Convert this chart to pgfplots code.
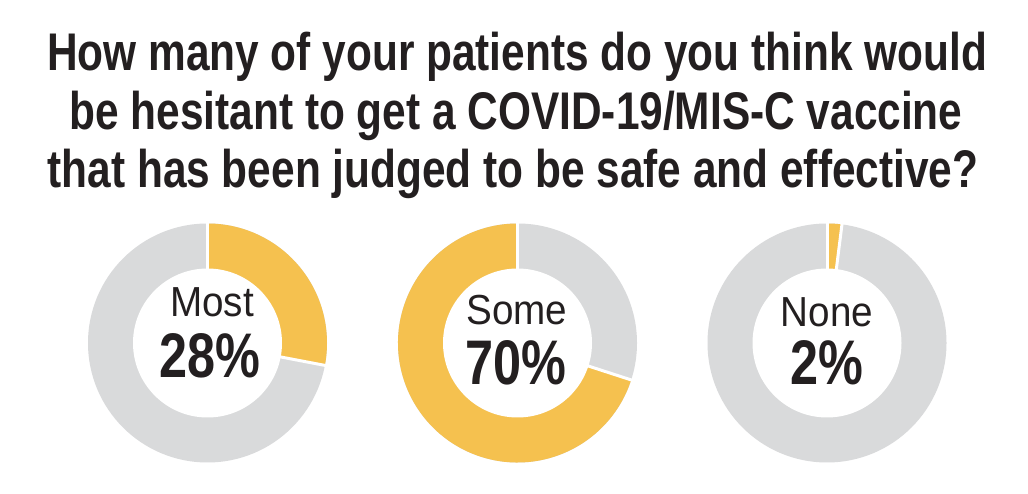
\documentclass[border=0pt]{standalone}
\usepackage{fontspec}
\setmainfont{Liberation Sans}
\newfontfamily\titlefont[FakeStretch=0.80]{Liberation Sans}
\newfontfamily\labfont[FakeStretch=0.92]{Liberation Sans}
\usepackage{pgfplots}
\pgfplotsset{compat=1.18}
\definecolor{yel}{HTML}{F5C14F}
\definecolor{gry}{HTML}{D9DADB}
\definecolor{ink}{HTML}{231F20}
% \donut{cx}{cy}{start angle}{percent of yellow, clockwise}
\newcommand{\donut}[4]{%
  \fill[gry] (axis cs:#1,#2) circle[radius=119.5pt];
  \fill[yel] (axis cs:#1,#2) -- ++(#3:119.5pt) arc[start angle=#3, end angle={#3-3.6*#4}, radius=119.5pt] -- cycle;
  \draw[white, line width=3pt] (axis cs:#1,#2) -- ++(#3:122pt);
  \draw[white, line width=3pt] (axis cs:#1,#2) -- ++({#3-3.6*#4}:122pt);
  \fill[white] (axis cs:#1,#2) circle[radius=74.5pt];
}
\begin{document}
\begin{tikzpicture}
\begin{axis}[x=1pt, y=1pt, xmin=0, xmax=1028, ymin=0, ymax=494,
  hide axis, clip=false]
\fill[white] (axis cs:0,0) rectangle (axis cs:1028,494);
% Most 28%  (yellow from 12 o'clock clockwise)
\donut{207.5}{151}{90}{28}
% Some 70%  (gray 30% from 12 o'clock clockwise, then yellow)
\donut{517.5}{151}{-18}{70}
% None 2%
\donut{827}{151}{90}{2}
\node[anchor=base, text=ink, inner sep=0pt, font=\titlefont\bfseries\fontsize{53}{56}\selectfont] at (axis cs:517,423) {How many of your patients do you think would};
\node[anchor=base, text=ink, inner sep=0pt, font=\titlefont\bfseries\fontsize{53}{56}\selectfont] at (axis cs:516,364) {be hesitant to get a COVID-19/MIS-C vaccine};
\node[anchor=base, text=ink, inner sep=0pt, font=\titlefont\bfseries\fontsize{53}{56}\selectfont] at (axis cs:513,306) {that has been judged to be safe and effective?};
\node[anchor=base, text=ink, font=\labfont\fontsize{42}{44}\selectfont] at (axis cs:212,177) {Most};
\node[anchor=base, text=ink, font=\titlefont\bfseries\fontsize{63}{66}\selectfont] at (axis cs:210,116) {28\%};
\node[anchor=base, text=ink, font=\labfont\fontsize{42}{44}\selectfont] at (axis cs:517,169) {Some};
\node[anchor=base, text=ink, font=\titlefont\bfseries\fontsize{63}{66}\selectfont] at (axis cs:516,109) {70\%};
\node[anchor=base, text=ink, font=\labfont\fontsize{42}{44}\selectfont] at (axis cs:827,167) {None};
\node[anchor=base, text=ink, font=\titlefont\bfseries\fontsize{63}{66}\selectfont] at (axis cs:827,109) {2\%};
\end{axis}
\end{tikzpicture}
\end{document}
